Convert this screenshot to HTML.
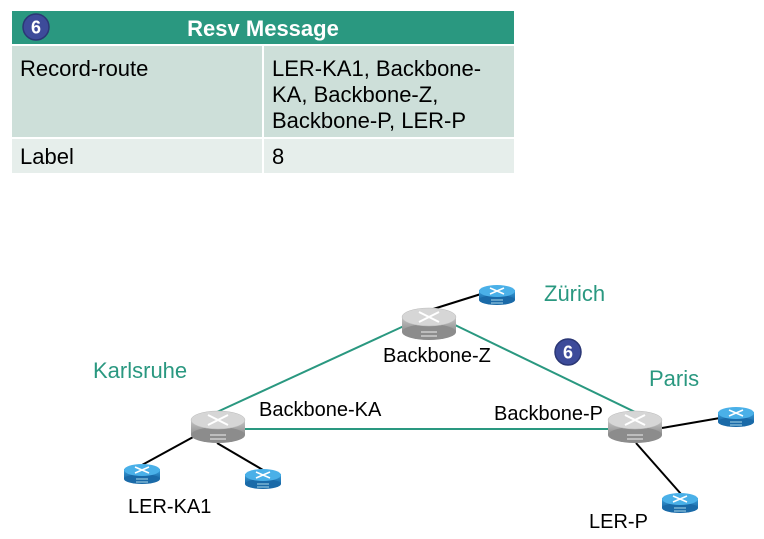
<!DOCTYPE html>
<html><head><meta charset="utf-8"><style>
body{margin:0;width:764px;height:539px;background:#fff;overflow:hidden;font-family:"Liberation Sans",sans-serif;}
</style></head><body>
<svg width="764" height="539" xmlns="http://www.w3.org/2000/svg" style="position:absolute;left:0;top:0">
<defs>
<linearGradient id="gg" x1="0" y1="0" x2="0" y2="1"><stop offset="0" stop-color="#c8c8c8"/><stop offset="1" stop-color="#8e8e8e"/></linearGradient>
<linearGradient id="bg" x1="0" y1="0" x2="0" y2="1"><stop offset="0" stop-color="#3aa0dc"/><stop offset="1" stop-color="#1a6aa8"/></linearGradient>
<g id="gr">
<rect x="0" y="8" width="54" height="16" fill="url(#gg)"/>
<ellipse cx="27" cy="24" rx="27" ry="8" fill="#8c8c8c"/>
<ellipse cx="27" cy="9" rx="27" ry="9" fill="#d6d6d6" stroke="#bbb" stroke-width="0.5"/>
<path d="M17 4 L37 14 M37 4 L17 14" stroke="#fff" stroke-width="2"/>
<path d="M19 24 h16 M19 28 h16" stroke="#eee" stroke-width="1"/>
</g>
<g id="br">
<rect x="0" y="5" width="36" height="10" fill="url(#bg)"/>
<ellipse cx="18" cy="15" rx="18" ry="5" fill="#1a6aa8"/>
<ellipse cx="18" cy="6" rx="18" ry="6" fill="#4ab0e8"/>
<path d="M11 3 L25 9 M25 3 L11 9" stroke="#fff" stroke-width="1.5"/>
<path d="M12 15 h12 M12 18 h12" stroke="#dff" stroke-width="0.8"/>
</g>
</defs>
<rect x="12" y="11" width="502" height="33" fill="#2a9880"/>
<rect x="12" y="46" width="250" height="91" fill="#cddfd9"/>
<rect x="264" y="46" width="250" height="91" fill="#cddfd9"/>
<rect x="12" y="139" width="250" height="34" fill="#e6eeeb"/>
<rect x="264" y="139" width="250" height="34" fill="#e6eeeb"/>
<circle cx="36" cy="27" r="13" fill="#3d4b9a" stroke="#2b3775" stroke-width="1.5"/>
<text x="36" y="33.5" font-size="18" font-weight="bold" fill="#fff" text-anchor="middle">6</text>
<text x="263" y="36" font-size="22" font-weight="bold" fill="#fff" text-anchor="middle">Resv Message</text>
<g font-size="22" fill="#000">
<text x="20" y="76">Record-route</text>
<text x="272" y="76">LER-KA1, Backbone-</text>
<text x="272" y="102">KA, Backbone-Z,</text>
<text x="272" y="128">Backbone-P, LER-P</text>
<text x="20" y="164">Label</text>
<text x="272" y="164">8</text>
</g>
<g stroke="#2a9880" stroke-width="2">
<line x1="217" y1="412" x2="404" y2="326"/>
<line x1="455" y1="325" x2="637" y2="413"/>
<line x1="244" y1="429" x2="610" y2="429"/>
</g>
<g stroke="#000" stroke-width="2">
<line x1="195" y1="436" x2="142" y2="465"/>
<line x1="217" y1="443" x2="263" y2="470"/>
<line x1="430" y1="310" x2="481" y2="294"/>
<line x1="662" y1="428" x2="720" y2="418"/>
<line x1="636" y1="443" x2="681" y2="494"/>
</g>
<use href="#gr" x="191" y="411"/>
<use href="#gr" x="402" y="308"/>
<use href="#gr" x="608" y="411"/>
<use href="#br" x="124" y="464"/>
<use href="#br" x="245" y="469"/>
<use href="#br" x="479" y="285"/>
<use href="#br" x="718" y="407"/>
<use href="#br" x="662" y="493"/>
<circle cx="568" cy="352" r="13" fill="#3d4b9a" stroke="#2b3775" stroke-width="1.5"/>
<text x="568" y="358.5" font-size="18" font-weight="bold" fill="#fff" text-anchor="middle">6</text>
<g font-size="22" fill="#2a9880">
<text x="93" y="378">Karlsruhe</text>
<text x="544" y="301">Zürich</text>
<text x="649" y="386">Paris</text>
</g>
<g font-size="20" fill="#000">
<text x="383" y="362">Backbone-Z</text>
<text x="259" y="416">Backbone-KA</text>
<text x="494" y="420">Backbone-P</text>
<text x="128" y="513">LER-KA1</text>
<text x="589" y="528">LER-P</text>
</g>
</svg>
</body></html>
